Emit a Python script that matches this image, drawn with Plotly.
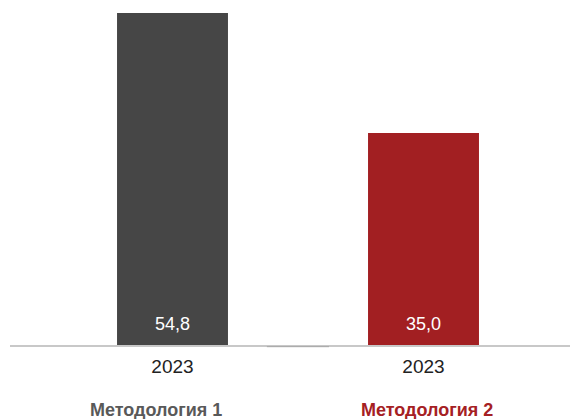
import plotly.graph_objects as go

categories = ["Методология 1", "Методология 2"]
years = ["2023", "2023"]
values = [54.8, 35.0]
bar_colors = ["#464646", "#A21F22"]
label_colors = ["#595959", "#A52023"]
label_shift = [-17, 3]

xpos = list(range(len(categories)))

fig = go.Figure()
fig.add_trace(go.Bar(
    x=xpos, y=values, width=0.442,
    marker=dict(color=bar_colors, line=dict(width=0)),
    hoverinfo="skip",
))

for i, v in enumerate(values):
    fig.add_annotation(x=i, y=0, xref="x", yref="y", text=f"{v:.1f}".replace(".", ","),
                       showarrow=False, yanchor="bottom", yshift=9,
                       font=dict(color="white", size=18, family="Liberation Sans, Arial"))

for i, (c, col) in enumerate(zip(categories, label_colors)):
    fig.add_annotation(x=i, y=-0.1955, xref="x", yref="paper", text=f"<b>{c}</b>",
                       showarrow=False, yanchor="middle", xshift=label_shift[i],
                       font=dict(color=col, size=18, family="Liberation Sans, Arial"))

fig.add_shape(type="line", xref="x", yref="paper", x0=0.376, x1=0.6235, y0=-0.005, y1=-0.005,
              line=dict(color="#A6A6A6", width=1))

fig.update_layout(
    width=570, height=411,
    margin=dict(l=2, r=0, t=2, b=74),
    paper_bgcolor="white", plot_bgcolor="white",
    showlegend=False,
    xaxis=dict(range=[-0.6474, 1.6155], tickvals=xpos, ticktext=years, showgrid=False,
               zeroline=False, showline=True, linecolor="#C8C8C8", linewidth=2,
               ticks="", ticklabelstandoff=3,
               tickfont=dict(size=19, color="#222222", family="Liberation Sans, Arial")),
    yaxis=dict(range=[0, 55.3], visible=False, showgrid=False, zeroline=False),
)

fig.write_html("out.html")
